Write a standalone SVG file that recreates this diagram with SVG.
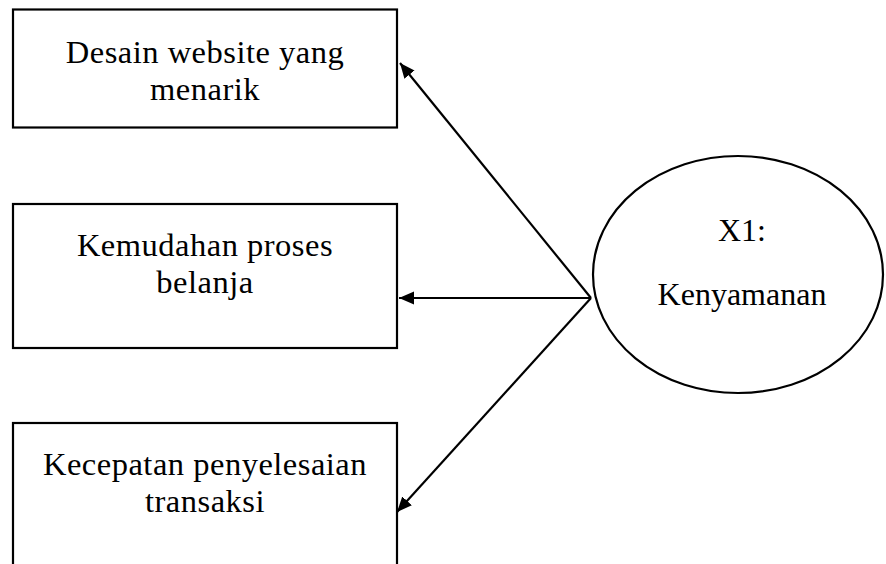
<svg xmlns="http://www.w3.org/2000/svg" width="886" height="564" viewBox="0 0 886 564">
<style>
.box{fill:#fff;stroke:#000;stroke-width:2.2}
.t{font-family:"Liberation Serif","DejaVu Serif",serif;font-size:32.5px;fill:#000;text-anchor:middle;letter-spacing:0.5px}
.e{font-family:"Liberation Serif",serif;font-size:32px;fill:#000;text-anchor:middle}
.c{stroke:#000;stroke-width:2.2;fill:none}
</style>
<defs>
<marker id="ah" markerUnits="userSpaceOnUse" markerWidth="16" markerHeight="14" refX="15" refY="7" orient="auto">
<path d="M0,0.5 L15,7 L0,13.5 z" fill="#000"/>
</marker>
</defs>
<rect width="886" height="564" fill="#fff"/>
<g id="n1">
<rect class="box" x="13" y="9.5" width="384" height="118"/>
<text class="t" x="205" y="63">Desain website yang</text>
<text class="t" x="205" y="100">menarik</text>
</g>
<g id="n2">
<rect class="box" x="13" y="204" width="384" height="144"/>
<text class="t" x="205" y="256">Kemudahan proses</text>
<text class="t" x="205" y="293">belanja</text>
</g>
<g id="n3">
<rect class="box" x="13" y="423" width="384" height="150"/>
<text class="t" x="205" y="475">Kecepatan penyelesaian</text>
<text class="t" x="205" y="512">transaksi</text>
</g>
<g id="x1">
<ellipse cx="738" cy="274.5" rx="145" ry="118.5" fill="#fff" stroke="#000" stroke-width="2.2"/>
<text class="e" x="742" y="241">X1:</text>
<text class="e" x="742" y="305">Kenyamanan</text>
</g>
<g id="connectors">
<line class="c" x1="591" y1="298" x2="400" y2="63" marker-end="url(#ah)"/>
<line class="c" x1="591" y1="298" x2="399" y2="298" marker-end="url(#ah)"/>
<line class="c" x1="591" y1="298" x2="397" y2="512" marker-end="url(#ah)"/>
</g>
</svg>
